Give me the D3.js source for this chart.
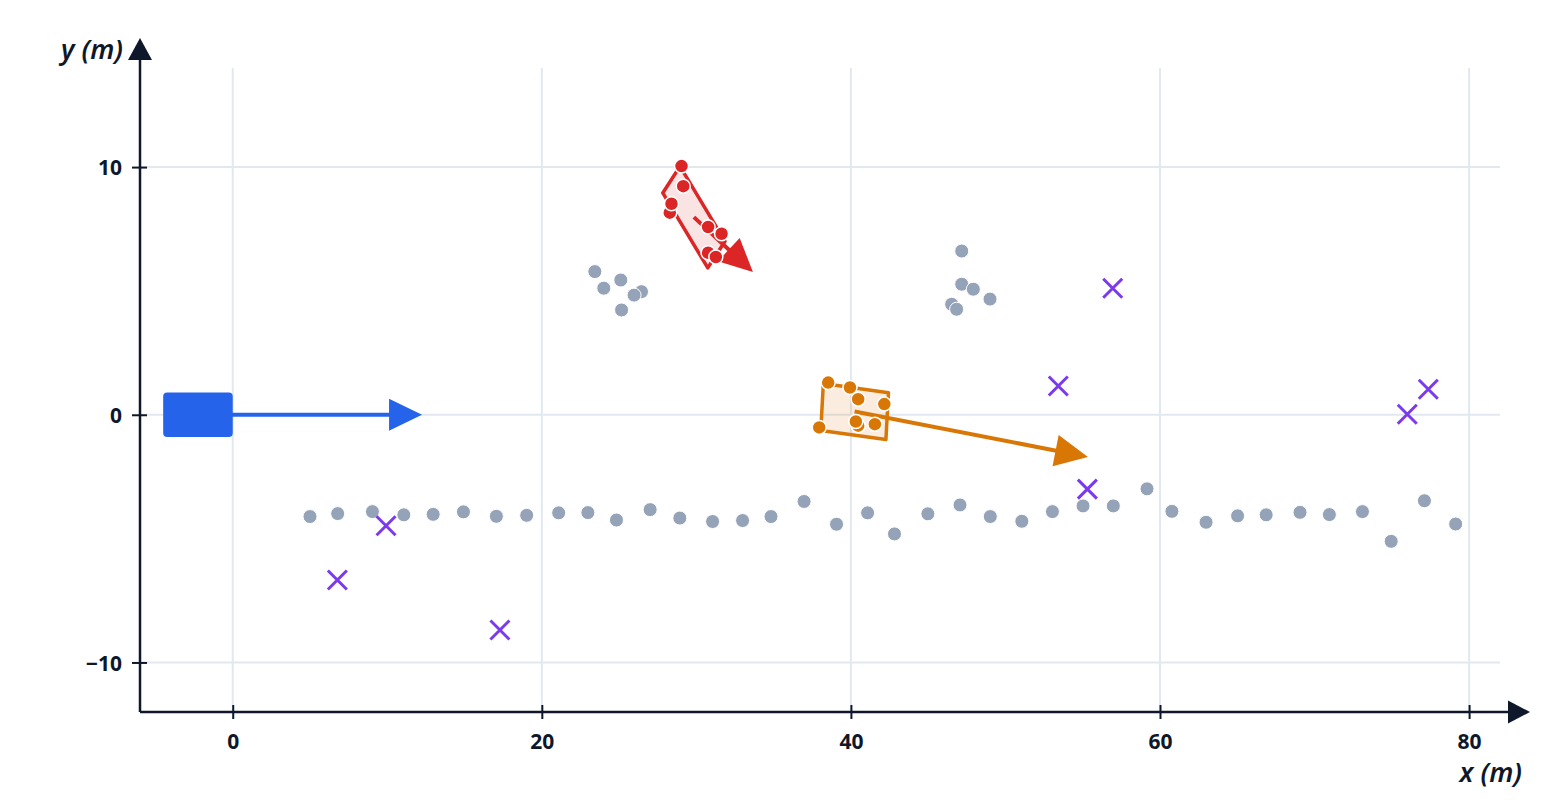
<!DOCTYPE html>
<html>
<head>
<meta charset="utf-8">
<script src="https://cdn.jsdelivr.net/npm/d3@7"></script>
<style>
  body { margin: 0; background: #fff; }
  text { font-family: "Noto Sans", "Open Sans", sans-serif; fill: #0f172a; }
  .tick text { font-size: 21px; font-weight: bold; }
  .axis-label { font-size: 27px; font-weight: 600; font-style: italic; }
</style>
</head>
<body>
<svg id="chart"></svg>
<script>
// static radar returns (guard rail + parked clusters)
const staticX = [5.0, 6.79, 9.04, 11.07, 12.97, 14.93, 17.06, 19.02, 21.09, 22.98, 24.83, 27.01, 28.93, 31.05, 32.99, 34.83, 36.97, 39.07, 41.08, 42.82, 44.98, 47.06, 49.02, 51.06, 53.04, 55.02, 56.98, 59.16, 60.77, 62.98, 65.02, 66.87, 69.06, 70.96, 73.1, 74.96, 77.11, 79.13,
  23.43, 24.01, 25.11, 26.45, 25.97, 25.16,
  47.17, 46.52, 47.17, 47.92, 49.0, 46.84];
const staticY = [-4.11, -3.99, -3.91, -4.04, -4.02, -3.92, -4.1, -4.06, -3.96, -3.95, -4.25, -3.83, -4.17, -4.31, -4.27, -4.11, -3.5, -4.42, -3.96, -4.81, -4.0, -3.64, -4.11, -4.3, -3.91, -3.68, -3.68, -2.99, -3.9, -4.34, -4.08, -4.04, -3.94, -4.03, -3.91, -5.11, -3.47, -4.41,
  5.78, 5.11, 5.44, 4.97, 4.83, 4.23,
  6.61, 4.46, 5.27, 5.07, 4.67, 4.26];

// clutter / false alarms
const clutterX = [6.77, 9.92, 17.29, 53.42, 56.94, 55.3, 76.0, 77.36];
const clutterY = [-6.67, -4.48, -8.69, 1.16, 5.11, -3.0, 0.02, 1.03];

// tracked objects: 0 = red, 1 = orange
const objCx = [29.84, 40.24];
const objCy = [7.98, 0.13];
const objLen = [4.2, 4.23];
const objWid = [1.55, 1.9];
const objHeading = [-46.1, -5]; // degrees
const objVx = [3.82, 15.1];
const objVy = [-2.22, -1.83];

// detections belonging to each track
const redDetX = [29.04, 29.15, 28.28, 28.39, 30.76, 31.63, 30.76, 31.26];
const redDetY = [10.04, 9.23, 8.16, 8.52, 7.58, 7.31, 6.54, 6.37];
const orangeDetX = [38.53, 39.94, 40.47, 42.16, 37.95, 40.47, 40.32, 41.55];
const orangeDetY = [1.3, 1.1, 0.63, 0.43, -0.51, -0.44, -0.27, -0.38];

// ego vehicle
const egoX = -2.25, egoY = 0, egoLen = 4.5, egoWid = 1.8, egoVx = 14.5, egoVy = 0;

const xTicks = [0, 20, 40, 60, 80];
const yTicks = [-10, 0, 10];

const blue = "#2563eb",
  red = "#dc2626",
  orange = "#d97706",
  purple = "#7c3aed",
  gray = "#94a3b8",
  ink = "#0f172a",
  grid = "#e2e8f0";

const W = 1560, H = 800;
const svg = d3.select("#chart").attr("width", W).attr("height", H);

const x = d3.scaleLinear().domain([-6, 82]).range([140, 1500]);
const y = d3.scaleLinear().domain([-12, 14]).range([712, 68]);

// GRID
svg.append("g")
  .selectAll("line")
  .data(xTicks)
  .join("line")
  .attr("x1", d => x(d)).attr("x2", d => x(d))
  .attr("y1", y(14)).attr("y2", y(-12))
  .attr("stroke", grid).attr("stroke-width", 2);
svg.append("g")
  .selectAll("line")
  .data(yTicks)
  .join("line")
  .attr("x1", x(-6)).attr("x2", x(82))
  .attr("y1", d => y(d)).attr("y2", d => y(d))
  .attr("stroke", grid).attr("stroke-width", 2);

// arrow helper: line + triangle head in pixel space
function arrow(g, x0, y0, x1, y1, color) {
  const px0 = x(x0), py0 = y(y0), px1 = x(x1), py1 = y(y1);
  const len = Math.hypot(px1 - px0, py1 - py0);
  const ux = (px1 - px0) / len, uy = (py1 - py0) / len;
  const hl = 33, hw = 16;
  const bx = px1 - ux * hl, by = py1 - uy * hl;
  g.append("line")
    .attr("x1", px0).attr("y1", py0)
    .attr("x2", bx + ux * 2).attr("y2", by + uy * 2)
    .attr("stroke", color).attr("stroke-width", 4);
  g.append("path")
    .attr("d", `M${px1},${py1}L${bx - uy * hw},${by + ux * hw}L${bx + uy * hw},${by - ux * hw}Z`)
    .attr("fill", color);
}

// STATIC POINTS
svg.append("g")
  .selectAll("circle")
  .data(staticX.map((d, i) => [d, staticY[i]]))
  .join("circle")
  .attr("cx", d => x(d[0]))
  .attr("cy", d => y(d[1]))
  .attr("r", 7)
  .attr("fill", gray)
  .attr("stroke", "#fff")
  .attr("stroke-width", 1);

// TRACKED OBJECTS
const objColors = [red, orange];
const dets = [
  redDetX.map((d, i) => [d, redDetY[i]]),
  orangeDetX.map((d, i) => [d, orangeDetY[i]])
];
objCx.forEach((cx, i) => {
  const g = svg.append("g");
  const a = objHeading[i] * Math.PI / 180;
  const ux = Math.cos(a), uy = Math.sin(a), nx = -uy, ny = ux;
  const hl = objLen[i] / 2, hw = objWid[i] / 2;
  const corners = [[-1, 1], [1, 1], [1, -1], [-1, -1]].map(([s, t]) => [
    cx + ux * hl * s + nx * hw * t,
    objCy[i] + uy * hl * s + ny * hw * t
  ]);
  g.append("path")
    .attr("d", d3.line().x(d => x(d[0])).y(d => y(d[1]))(corners) + "Z")
    .attr("fill", objColors[i])
    .attr("fill-opacity", 0.13)
    .attr("stroke", objColors[i])
    .attr("stroke-width", 3.5)
    .attr("stroke-linejoin", "round");
  arrow(g, cx, objCy[i], cx + objVx[i], objCy[i] + objVy[i], objColors[i]);
  g.selectAll("circle")
    .data(dets[i])
    .join("circle")
    .attr("cx", d => x(d[0]))
    .attr("cy", d => y(d[1]))
    .attr("r", 7)
    .attr("fill", objColors[i])
    .attr("stroke", "#fff")
    .attr("stroke-width", 1.5);
});

// CLUTTER CROSSES
svg.append("g")
  .selectAll("path")
  .data(clutterX.map((d, i) => [d, clutterY[i]]))
  .join("path")
  .attr("d", d => {
    const cx = x(d[0]), cy = y(d[1]), s = 9.5;
    return `M${cx - s},${cy - s}L${cx + s},${cy + s}M${cx - s},${cy + s}L${cx + s},${cy - s}`;
  })
  .attr("stroke", purple)
  .attr("stroke-width", 3);

// EGO VEHICLE
const ego = svg.append("g");
arrow(ego, egoX, egoY, egoX + egoVx, egoY + egoVy, blue);
ego.append("rect")
  .attr("x", x(egoX - egoLen / 2))
  .attr("y", y(egoY + egoWid / 2))
  .attr("width", x(egoX + egoLen / 2) - x(egoX - egoLen / 2))
  .attr("height", y(egoY - egoWid / 2) - y(egoY + egoWid / 2))
  .attr("rx", 4)
  .attr("fill", blue);

// AXES
const xAxis = svg.append("g")
  .attr("transform", `translate(0,${y(-12)})`)
  .call(d3.axisBottom(x).tickValues(xTicks).tickSize(7).tickSizeOuter(0));
const yAxis = svg.append("g")
  .attr("transform", `translate(${x(-6)},0)`)
  .call(d3.axisLeft(y).tickValues(yTicks).tickSize(8).tickSizeOuter(0));
[xAxis, yAxis].forEach(a => a.select(".domain").remove());
xAxis.selectAll(".tick line").attr("y1", -7).attr("stroke", ink).attr("stroke-width", 2);
xAxis.selectAll(".tick text").attr("y", 37).attr("dy", 0);
yAxis.selectAll(".tick line").attr("x1", 7).attr("stroke", ink).attr("stroke-width", 2);
yAxis.selectAll(".tick text").attr("x", -18).attr("dy", "0.36em");

// axis lines with arrowheads
svg.append("line")
  .attr("x1", x(-6)).attr("y1", y(-12)).attr("x2", 1512).attr("y2", y(-12))
  .attr("stroke", ink).attr("stroke-width", 2.5);
svg.append("path")
  .attr("d", `M1530,${y(-12)}L1508,${y(-12) - 11.5}L1508,${y(-12) + 11.5}Z`)
  .attr("fill", ink);
svg.append("line")
  .attr("x1", x(-6)).attr("y1", y(-12)).attr("x2", x(-6)).attr("y2", 56)
  .attr("stroke", ink).attr("stroke-width", 2.5);
svg.append("path")
  .attr("d", `M${x(-6)},38L${x(-6) - 12},60L${x(-6) + 12},60Z`)
  .attr("fill", ink);

svg.append("text")
  .attr("class", "axis-label")
  .attr("x", 1522).attr("y", 782)
  .attr("text-anchor", "end")
  .text("x (m)");
svg.append("text")
  .attr("class", "axis-label")
  .attr("x", 123).attr("y", 59)
  .attr("text-anchor", "end")
  .text("y (m)");
</script>
</body>
</html>
